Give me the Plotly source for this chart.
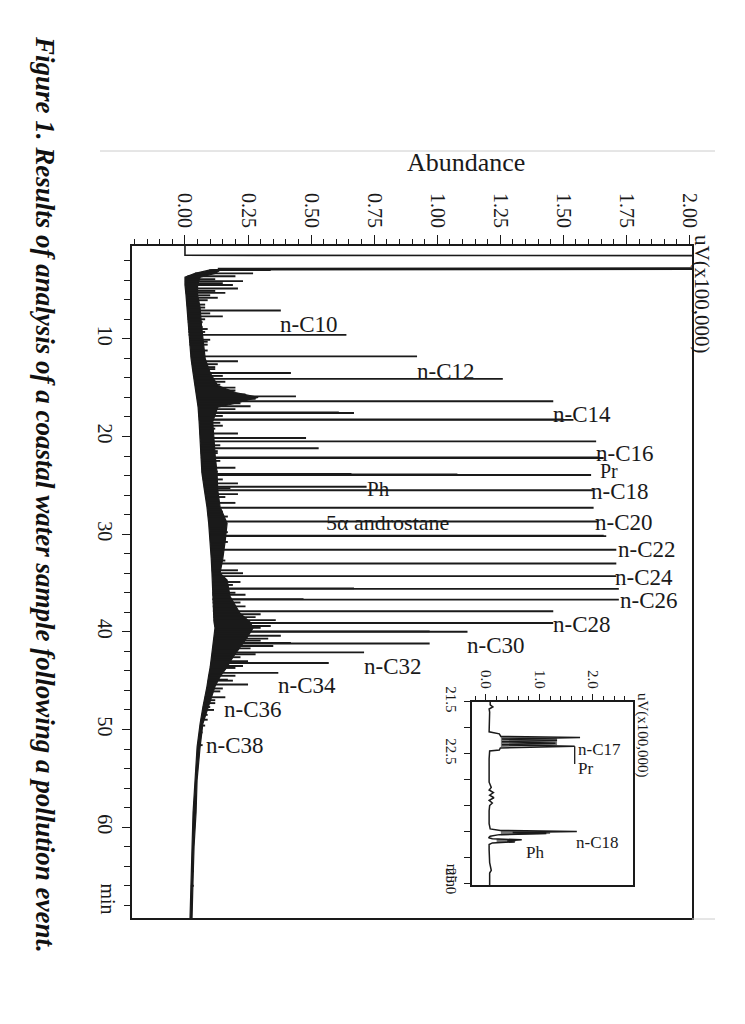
import numpy as np
import plotly.graph_objects as go

SERIF = "Liberation Serif"
INK = "#1a1a1a"

# ---------------- main chromatogram data (time in min, abundance in uV x100,000) ----
# start of run: flat, solvent peak off-scale, return
start_t = [0.5, 1.45, 1.50, 2.75, 2.80, 2.86, 2.92, 2.95]
start_a = [0.0, 0.0, 2.6, 2.6, 0.13, 2.6, 0.14, 0.10]

# baseline (lo) and dense unresolved envelope (hi)
band_t = [2.95, 3.3, 3.7, 4.5, 5.5, 6.8, 8.5, 10.1, 12.0, 13.5, 14.8, 15.5, 16.0, 16.6,
          17.0, 18.5, 20.4, 22.0, 23.7, 25.5, 27.2, 28.9, 30.6, 32.5, 34.0, 34.7, 36.4,
          38.1, 39.0, 39.6, 40.6, 41.6, 42.6, 43.6, 44.6, 45.6, 47.7, 49.4, 51.8, 55.2,
          58.5, 62.0, 65.4, 69.3]
band_lo = [0.10, 0.04, 0.0, 0.0, 0.004, 0.008, 0.012, 0.016, 0.024, 0.032, 0.04, 0.045,
           0.048, 0.05, 0.052, 0.056, 0.06, 0.063, 0.067, 0.077, 0.087, 0.094, 0.10, 0.104,
           0.107, 0.108, 0.109, 0.111, 0.115, 0.119, 0.115, 0.111, 0.106, 0.10, 0.093,
           0.087, 0.071, 0.06, 0.048, 0.04, 0.032, 0.028, 0.024, 0.02]
band_hi = [0.14, 0.12, 0.06, 0.05, 0.05, 0.06, 0.065, 0.071, 0.08, 0.10, 0.13, 0.20,
           0.29, 0.20, 0.13, 0.11, 0.115, 0.12, 0.127, 0.13, 0.139, 0.167, 0.16, 0.15,
           0.139, 0.167, 0.179, 0.218, 0.258, 0.27, 0.246, 0.218, 0.19, 0.167, 0.139,
           0.119, 0.091, 0.071, 0.06, 0.048, 0.044, 0.036, 0.032, 0.028]

# resolved peaks (major and minor), retention time and apex height
peak_t = [2.97, 3.3, 3.6, 3.9, 4.1, 4.3, 4.5, 4.85, 5.1, 5.3, 5.55, 5.8, 6.05, 6.5, 6.8,
          7.1, 7.4, 7.7, 8.0, 8.3, 8.8, 9.0, 9.3, 9.6, 10.1, 10.3, 10.6, 11.2, 11.8, 12.3,
          12.6, 12.9, 13.1, 13.5, 13.8, 14.1, 14.4, 14.7, 15.0, 15.3, 15.7, 15.9, 16.15,
          16.4, 16.6, 16.9, 17.2, 17.55, 17.6, 17.9, 18.25, 18.3, 18.6, 18.9, 19.2, 19.7,
          20.15, 20.5, 20.9, 21.2, 21.5, 21.7, 22.15, 22.2, 22.5, 22.7, 23.2, 23.6,
          23.85, 23.9, 23.95, 24.4, 24.8, 25.15, 25.3, 25.5, 25.9, 26.2, 26.8, 27.3,
          27.7, 28.0, 28.2, 28.7, 29.4, 29.8, 30.15, 30.2, 30.8, 31.1, 31.6, 32.3, 32.7,
          33.0, 33.7, 34.0, 34.3, 34.9, 35.2, 35.55, 35.6, 36.0, 36.2, 36.65, 36.7,
          37.0, 37.4, 37.9, 38.2, 38.5, 38.8, 39.1, 39.4, 39.6, 39.95, 40.0, 40.4,
          40.7, 40.9, 41.15, 41.2, 41.45, 41.7, 42.1, 42.3, 42.6, 43.0, 43.2, 43.5,
          43.7, 44.2, 44.5, 44.9, 45.0, 45.4, 45.8, 46.1, 46.7, 47.0, 47.3, 47.7, 48.0,
          48.5, 49.0, 49.6, 50.3, 51.6, 53.0, 57.5, 64.5, 66.0]
peak_h = [0.34, 0.27, 0.20, 0.12, 0.23, 0.15, 0.19, 0.21, 0.12, 0.16, 0.10, 0.13, 0.09,
          0.08, 0.08, 0.38, 0.10, 0.15, 0.08, 0.07, 0.07, 0.09, 0.08, 0.64, 0.10, 0.09,
          0.09, 0.09, 0.92, 0.21, 0.13, 0.12, 0.12, 0.42, 0.15, 1.26, 0.16, 0.14, 0.20,
          0.20, 0.24, 0.44, 0.28, 1.46, 0.22, 0.26, 0.20, 0.61, 0.67, 0.15, 1.50, 1.54,
          0.14, 0.15, 0.12, 0.21, 0.48, 1.63, 0.14, 0.53, 0.13, 0.13, 1.64, 1.66, 0.14,
          0.12, 0.20, 0.13, 0.66, 1.08, 1.61, 0.15, 0.21, 0.72, 0.18, 1.62, 0.21, 0.16,
          0.20, 1.62, 0.15, 0.14, 0.17, 1.64, 0.15, 0.17, 1.66, 1.67, 0.17, 0.15, 1.71,
          0.15, 0.16, 1.71, 0.21, 0.23, 1.71, 0.22, 0.19, 0.67, 1.72, 0.20, 0.24, 0.47,
          1.72, 0.22, 0.24, 1.46, 0.30, 0.28, 0.36, 1.46, 0.34, 0.30, 0.97, 1.12, 0.38,
          0.33, 0.30, 0.42, 0.97, 0.35, 0.26, 0.71, 0.28, 0.22, 0.25, 0.57, 0.23, 0.20,
          0.37, 0.20, 0.17, 0.19, 0.25, 0.15, 0.14, 0.16, 0.12, 0.12, 0.10, 0.115, 0.09,
          0.09, 0.08, 0.07, 0.07, 0.055, 0.045, 0.035, 0.035]

label_text = ["n-C10", "n-C12", "n-C14", "n-C16", "Pr", "n-C18", "Ph", "5\u03b1 androstane",
              "n-C20", "n-C22", "n-C24", "n-C26", "n-C28", "n-C30", "n-C32", "n-C34",
              "n-C36", "n-C38"]
label_a = [0.373, 0.917, 1.456, 1.627, 1.643, 1.607, 0.718, 0.556, 1.623, 1.714, 1.702,
           1.722, 1.456, 1.115, 0.706, 0.365, 0.151, 0.079]
label_t = [8.55, 13.3, 17.8, 21.75, 23.55, 25.65, 25.4, 28.8, 28.8, 31.6, 34.4, 36.8, 39.2,
           41.4, 43.5, 45.5, 48.0, 51.6]
label_size = [23, 23, 23, 23, 20, 23, 21, 22, 23, 23, 23, 23, 23, 23, 23, 23, 23, 23]

x_ticks = [0.0, 0.25, 0.5, 0.75, 1.0, 1.25, 1.5, 1.75, 2.0]
x_ticktext = ["0.00", "0.25", "0.50", "0.75", "1.00", "1.25", "1.50", "1.75", "2.00"]
y_ticks = [10, 20, 30, 40, 50, 60]
y_ticktext = ["10", "20", "30", "40", "50", "60"]

# ---------------- inset data ----------------
inset_t = [21.50, 21.56, 21.60, 21.64, 21.70, 21.80, 21.95, 22.08, 22.12, 22.17, 22.19,
           22.22, 22.24, 22.27, 22.30, 22.33, 22.36, 22.39, 22.43, 22.45, 22.60, 22.80,
           22.95, 23.05, 23.15, 23.20, 23.25, 23.30, 23.35, 23.40, 23.45, 23.50, 23.60,
           23.85, 23.95, 23.98, 24.00, 24.02, 24.04, 24.06, 24.09, 24.12, 24.14, 24.16,
           24.18, 24.20, 24.22, 24.25, 24.35, 24.60, 24.75, 24.80, 25.03]
inset_a = [0.08, 0.08, 0.13, 0.06, 0.07, 0.07, 0.06, 0.06, 0.25, 0.28, 1.76, 0.30, 1.33,
           0.30, 1.30, 0.30, 1.66, 0.27, 0.25, 0.07, 0.06, 0.06, 0.07, 0.06, 0.10, 0.06,
           0.14, 0.07, 0.15, 0.06, 0.12, 0.07, 0.06, 0.06, 0.08, 0.27, 1.70, 0.50, 1.13,
           0.25, 0.08, 0.05, 0.12, 0.67, 0.40, 0.54, 0.12, 0.06, 0.06, 0.07, 0.10, 0.07,
           0.07]
inset_fill1_t = [22.17, 22.19, 22.34, 22.37, 22.17]
inset_fill1_a = [0.28, 1.33, 1.33, 0.28, 0.28]
inset_fill2_t = [23.98, 24.00, 24.05, 24.07, 23.98]
inset_fill2_a = [0.28, 1.20, 1.20, 0.28, 0.28]
inset_fill3_t = [24.14, 24.16, 24.20, 24.22, 24.14]
inset_fill3_a = [0.20, 0.55, 0.55, 0.20, 0.20]
inset_leader_t = [22.36, 22.70]
inset_leader_a = [1.66, 1.66]

inset_label_text = ["n-C17", "Pr", "n-C18", "Ph"]
inset_label_a = [1.70, 1.70, 1.66, 0.73]
inset_label_t = [22.43, 22.78, 24.22, 24.40]

inset_x_ticks = [0.0, 1.0, 2.0]
inset_x_ticktext = ["0.0", "1.0", "2.0"]
inset_y_ticks = [21.5, 22.5, 25.0]
inset_y_ticktext = ["21.5", "22.5", "25.0"]

# ---------------- build figure ----------------
fig = go.Figure()

fig.add_trace(go.Scatter(x=start_a, y=start_t, mode="lines",
                         line=dict(color=INK, width=1.6), hoverinfo="skip"))
fig.add_trace(go.Scatter(x=band_lo, y=band_t, mode="lines",
                         line=dict(color=INK, width=1.2), hoverinfo="skip"))
fig.add_trace(go.Scatter(x=band_hi, y=band_t, mode="lines", fill="tonextx",
                         fillcolor=INK, line=dict(color=INK, width=1.2), hoverinfo="skip"))

base_at_peak = np.interp(peak_t, band_t, band_lo)
sx, sy = [], []
for t, h, b in zip(peak_t, peak_h, base_at_peak):
    sx += [b, h, None]
    sy += [t, t, None]
fig.add_trace(go.Scatter(x=sx, y=sy, mode="lines",
                         line=dict(color=INK, width=1.9), hoverinfo="skip"))

# inset traces
for ft, fa in [(inset_fill1_t, inset_fill1_a), (inset_fill2_t, inset_fill2_a),
               (inset_fill3_t, inset_fill3_a)]:
    fig.add_trace(go.Scatter(x=fa, y=ft, mode="lines", fill="toself",
                             fillcolor="#7a7a7a", line=dict(width=0),
                             xaxis="x2", yaxis="y2", hoverinfo="skip"))
fig.add_trace(go.Scatter(x=inset_a, y=inset_t, mode="lines",
                         line=dict(color=INK, width=1.5), xaxis="x2", yaxis="y2",
                         hoverinfo="skip"))
fig.add_trace(go.Scatter(x=inset_leader_a, y=inset_leader_t, mode="lines",
                         line=dict(color=INK, width=1.3), xaxis="x2", yaxis="y2",
                         hoverinfo="skip"))

annotations = []
for txt, a, t, s in zip(label_text, label_a, label_t, label_size):
    annotations.append(dict(x=a, y=t, xref="x", yref="y", text=txt, showarrow=False,
                            xanchor="left", yanchor="middle", borderpad=0,
                            font=dict(family=SERIF, size=s, color=INK)))
for txt, a, t in zip(inset_label_text, inset_label_a, inset_label_t):
    annotations.append(dict(x=a, y=t, xref="x2", yref="y2", text=txt, showarrow=False,
                            xanchor="left", yanchor="middle", borderpad=0,
                            font=dict(family=SERIF, size=17, color=INK)))

annotations += [
    dict(x=466 / 745, y=1 - 162 / 1024, xref="paper", yref="paper", text="Abundance",
         showarrow=False, xanchor="center", yanchor="middle",
         font=dict(family=SERIF, size=26, color=INK)),
    dict(x=702 / 745, y=1 - 294 / 1024, xref="paper", yref="paper", text="uV(x100,000)",
         showarrow=False, textangle=90, xanchor="center", yanchor="middle",
         font=dict(family=SERIF, size=21, color=INK)),
    dict(x=643 / 745, y=1 - 735 / 1024, xref="paper", yref="paper", text="uV(x100,000)",
         showarrow=False, textangle=90, xanchor="center", yanchor="middle",
         font=dict(family=SERIF, size=15, color=INK)),
    dict(x=108 / 745, y=67.3, xref="paper", yref="y", text="min",
         showarrow=False, textangle=90, xanchor="center", yanchor="middle",
         font=dict(family=SERIF, size=20, color=INK)),
    dict(x=452 / 745, y=24.85, xref="paper", yref="y2", text="min",
         showarrow=False, textangle=90, xanchor="center", yanchor="middle",
         font=dict(family=SERIF, size=15, color=INK)),
    dict(x=45 / 745, y=1 - 494 / 1024, xref="paper", yref="paper",
         text="<b><i>Figure 1. Results of analysis of a coastal water sample following a pollution event.</i></b>",
         showarrow=False, textangle=90, xanchor="center", yanchor="middle",
         font=dict(family=SERIF, size=27, color="#111")),
]

shapes = [
    dict(type="line", xref="paper", yref="paper", x0=100 / 745, x1=715 / 745,
         y0=1 - 151 / 1024, y1=1 - 151 / 1024, line=dict(color="#cccccc", width=1)),
    dict(type="line", xref="paper", yref="paper", x0=692 / 745, x1=715 / 745,
         y0=1 - 919 / 1024, y1=1 - 919 / 1024, line=dict(color="#cccccc", width=1)),
]

axis_common = dict(showgrid=False, zeroline=False, showline=True, linecolor=INK,
                   mirror=True, ticks="outside", tickcolor=INK, automargin=False)

fig.update_layout(
    width=745, height=1024, margin=dict(l=0, r=0, t=0, b=0, pad=0),
    paper_bgcolor="white", plot_bgcolor="white", showlegend=False,
    xaxis=dict(domain=[132 / 745, 692 / 745], range=[-0.21, 2.01], side="top",
               anchor="y", tickmode="array", tickvals=x_ticks, ticktext=x_ticktext,
               tickangle=90, ticklen=9, tickwidth=1.3, linewidth=2,
               tickfont=dict(family=SERIF, size=20, color=INK),
               minor=dict(dtick=0.05, tick0=0, ticklen=5, tickwidth=1.2, tickcolor=INK,
                          ticks="outside", showgrid=False), **axis_common),
    yaxis=dict(domain=[1 - 918 / 1024, 1 - 246 / 1024], range=[69.3, 0.5], anchor="x",
               tickmode="array", tickvals=y_ticks, ticktext=y_ticktext, tickangle=90,
               ticklen=8, tickwidth=1.3, linewidth=2,
               tickfont=dict(family=SERIF, size=20, color=INK),
               minor=dict(dtick=2, tick0=0, ticklen=6, tickwidth=1.2, tickcolor=INK,
                          ticks="outside", showgrid=False), **axis_common),
    xaxis2=dict(domain=[472 / 745, 633 / 745], range=[-0.26, 2.75], side="top",
                anchor="y2", tickmode="array", tickvals=inset_x_ticks,
                ticktext=inset_x_ticktext, tickangle=90, ticklen=6, tickwidth=1.2,
                linewidth=1.6, tickfont=dict(family=SERIF, size=15, color=INK),
                minor=dict(dtick=0.2, tick0=0, ticklen=4, tickwidth=1, tickcolor=INK,
                           ticks="outside", showgrid=False), **axis_common),
    yaxis2=dict(domain=[1 - 885 / 1024, 1 - 701.7 / 1024], range=[25.03, 21.5],
                anchor="x2", tickmode="array", tickvals=inset_y_ticks,
                ticktext=inset_y_ticktext, tickangle=90, ticklen=6, tickwidth=1.2,
                linewidth=1.6, tickfont=dict(family=SERIF, size=15, color=INK),
                minor=dict(dtick=0.5, tick0=0, ticklen=6, tickwidth=1, tickcolor=INK,
                           ticks="outside", showgrid=False), **axis_common),
    annotations=annotations, shapes=shapes,
)

fig.write_html("out.html", config={"displayModeBar": False},
               post_script="document.body.style.margin='0px';document.body.style.padding='0px';")
